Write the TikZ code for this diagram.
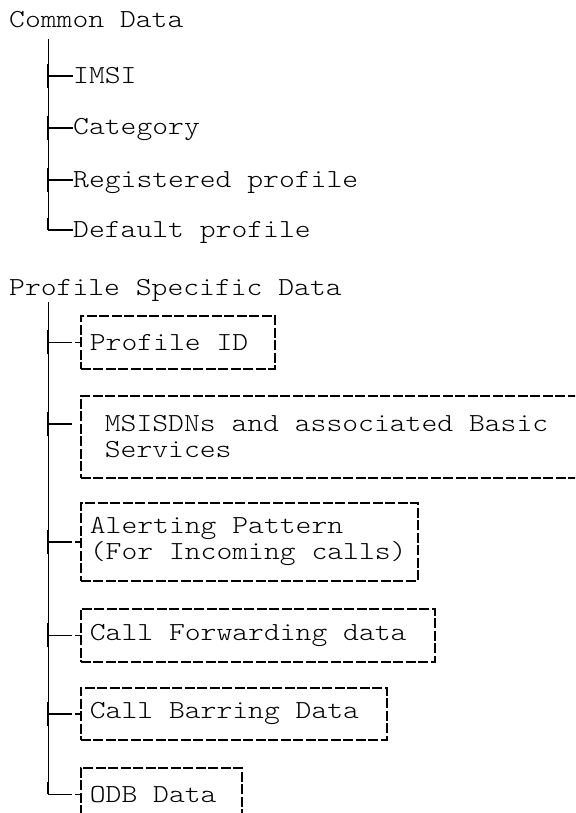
\documentclass[tikz,border=0pt]{standalone}
\usepackage{fontspec}
\setmonofont[FakeStretch=1.16]{Latin Modern Mono Light}
\usepackage{tikz}

\tikzset{
  leaf/.style={anchor=base west, inner sep=0pt},
  trunk/.style={line width=1pt},
  tick/.style={line width=1.8pt},
  joint/.style={line width=1.8pt, xshift=-0.5pt},
  boxtick/.style={line width=1.8pt, dash pattern=on 24pt off 3pt},
  databox/.style={draw, anchor=north west, line width=1.8pt,
    dash pattern=on 10pt off 2.5pt, align=left, inner xsep=9pt, inner ysep=0pt,
    execute at begin node={\spaceskip=0pt\xspaceskip=0pt}}
}

\begin{document}
\begin{tikzpicture}[x=1pt, y=-1pt, font=\ttfamily\fontsize{26}{26}\selectfont]
    \useasboundingbox (0,0) rectangle (575,813);
    \clip (0,0) rectangle (575,813);

    % common data
    \node[leaf] (common) at (9,28) {Common Data};
    \coordinate (top1) at (48,39);
    \coordinate (j1) at (48,76);
    \coordinate (j2) at (48,128);
    \coordinate (j3) at (48,180);
    \coordinate (j4) at (48,230);
    \node[leaf] (imsi) at (73,84) {IMSI};
    \node[leaf] (category) at (73,135) {Category};
    \node[leaf] (registered) at (73,187) {Registered profile};
    \node[leaf] (default) at (73,237) {Default profile};

    \draw[trunk] (top1) -- (j4);
    \draw[tick] (j1) -- (imsi.west |- j1);
    \draw[tick] (j2) -- (category.west |- j2);
    \draw[tick] (j3) -- (registered.west |- j3);
    \draw[tick] (j4) -- (default.west |- j4);
    \foreach \j in {j1,j2,j3}
        \draw[joint] ([yshift=-12pt]\j) -- ([yshift=12pt]\j);
    \draw[joint] ([yshift=12pt]j4) -- (j4);

    % profile specific data
    \node[leaf] (profile) at (9,295) {Profile Specific Data};
    \coordinate (top2) at (48,302);
    \node[databox, text width=176pt, minimum height=53pt] (pid) at (80,315) {Profile ID};
    \node[databox, text width=472pt, minimum height=82pt, inner xsep=24pt] (msisdn) at (80,395)
        {MSISDNs and associated Basic\\Services};
    \node[databox, text width=319pt, minimum height=78pt] (alert) at (80,502)
        {Alerting Pattern\\(For Incoming calls)};
    \node[databox, text width=336pt, minimum height=53pt] (fwd) at (80,608) {Call Forwarding data};
    \node[databox, text width=288pt, minimum height=52pt] (bar) at (80,687) {Call Barring Data};
    \node[databox, text width=143pt, minimum height=53pt] (odb) at (80,767) {ODB Data};
    \coordinate (j6) at (48,424);

    \draw[trunk] (top2) -- (top2 |- odb.west);
    \draw[boxtick] (top2 |- pid.west) -- (pid.west);
    \draw[tick] (j6) -- ++(24,0);
    \draw[boxtick] (top2 |- alert.west) -- (alert.west);
    \draw[boxtick] (top2 |- fwd.west) -- (fwd.west);
    \draw[boxtick] (top2 |- bar.west) -- (bar.west);
    \draw[boxtick] (top2 |- odb.west) -- (odb.west);
    \foreach \n in {pid,alert,fwd,bar}
        \draw[joint] ([yshift=-12pt]top2 |- \n.west) -- ([yshift=12pt]top2 |- \n.west);
    \draw[joint] ([yshift=-12pt]j6) -- ([yshift=12pt]j6);
    \draw[joint] ([yshift=12pt]top2 |- odb.west) -- (top2 |- odb.west);
\end{tikzpicture}
\end{document}
